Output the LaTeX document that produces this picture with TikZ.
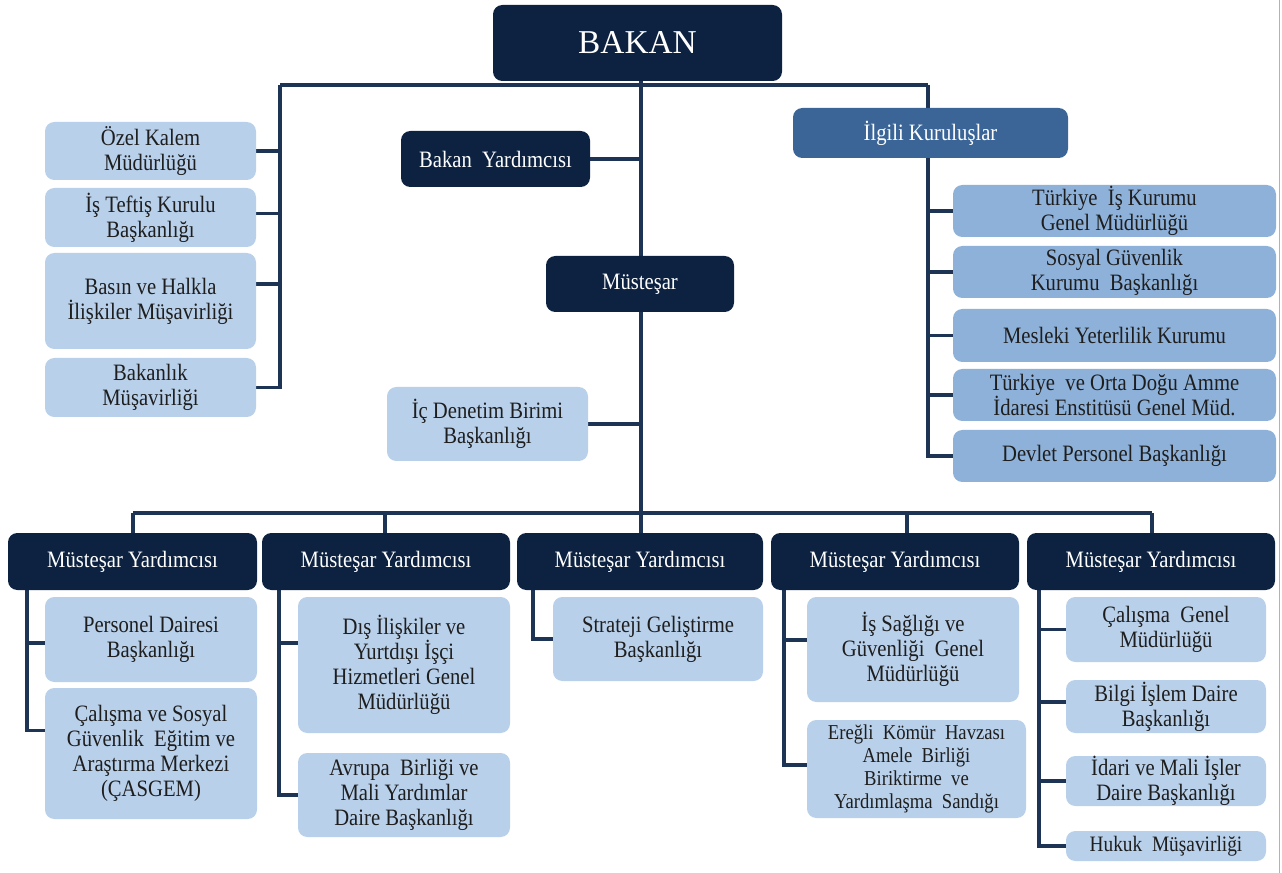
\documentclass[tikz,border=0pt]{standalone}
\usepackage{fontspec}
\setmainfont{Liberation Serif}[FakeStretch=0.88]
\newfontfamily\plainserif{Liberation Serif}
\usetikzlibrary{calc}
\definecolor{navy}{HTML}{0C2240}
\definecolor{lightb}{HTML}{B8D0EA}
\definecolor{midb}{HTML}{8EB1D9}
\definecolor{ilg}{HTML}{3A6596}
\definecolor{linec}{HTML}{1D3455}
\definecolor{txt}{HTML}{1E1E1E}
\pgfdeclarelayer{bg}
\pgfsetlayers{bg,main}
\newcommand{\bx}[7]{%
  \pgfmathsetmacro{\bw}{(#4-#2)*0.75}%
  \pgfmathsetmacro{\bh}{(#5-#3)*0.75}%
  \node[#6, minimum width=\bw pt, minimum height=\bh pt] (#1) at ({(#2+#4)/2},{(#3+#5)/2}) {#7};%
}
\begin{document}
\begin{tikzpicture}[x=0.75pt,y=-0.75pt,
  base/.style={inner sep=0pt, align=center, rounded corners=7pt, font=\fontsize{17.6}{18.6}\selectfont},
  darkbox/.style={base, fill=navy, text=white},
  lightbox/.style={base, fill=lightb, text=txt},
  midbox/.style={base, fill=midb, text=txt},
  ilgbox/.style={base, fill=ilg, text=white},
  conn/.style={draw=linec, line width=2.6pt}]
\useasboundingbox (0,0) rectangle (1282,873);

% top
\bx{bakan}{493}{5}{782}{81}{darkbox, font=\plainserif\fontsize{25}{30}\selectfont}{BAKAN}
\bx{ozel}{45}{122}{256}{180}{lightbox}{Özel Kalem\\Müdürlüğü}
\bx{teftis}{45}{188}{256}{247}{lightbox}{İş Teftiş Kurulu\\Başkanlığı}
\bx{basin}{45}{253}{256}{349}{lightbox}{Basın ve Halkla\\İlişkiler Müşavirliği}
\bx{bakmus}{45}{358}{256}{417}{lightbox}{Bakanlık\\Müşavirliği}
\bx{byard}{401}{131}{590}{187}{darkbox}{Bakan\ \ Yardımcısı}
\bx{muste}{546}{256}{734}{312}{darkbox}{Müsteşar}
\bx{icden}{387}{387}{588}{461}{lightbox}{İç Denetim Birimi\\Başkanlığı}
\bx{ilgili}{793}{108}{1068}{158}{ilgbox}{İlgili Kuruluşlar}
\bx{iskur}{953}{185}{1276}{237}{midbox}{Türkiye\ \ İş Kurumu\\Genel Müdürlüğü}
\bx{sgk}{953}{246}{1276}{298}{midbox}{Sosyal Güvenlik\\Kurumu\ \ Başkanlığı}
\bx{myk}{953}{309}{1276}{362}{midbox}{Mesleki Yeterlilik Kurumu}
\bx{todaie}{953}{369}{1276}{421}{midbox}{Türkiye\ \ ve Orta Doğu Amme\\İdaresi Enstitüsü Genel Müd.}
\bx{dpb}{953}{430}{1276}{482}{midbox}{Devlet Personel Başkanlığı}

% bottom row
\bx{my1}{8}{533}{257}{590}{darkbox}{Müsteşar Yardımcısı}
\bx{my2}{262}{533}{510}{590}{darkbox}{Müsteşar Yardımcısı}
\bx{my3}{517}{533}{763}{590}{darkbox}{Müsteşar Yardımcısı}
\bx{my4}{771}{533}{1019}{590}{darkbox}{Müsteşar Yardımcısı}
\bx{my5}{1027}{533}{1275}{590}{darkbox}{Müsteşar Yardımcısı}

\bx{pers}{45}{597}{257}{682}{lightbox}{Personel Dairesi\\Başkanlığı}
\bx{casgem}{45}{688}{257}{819}{lightbox}{Çalışma ve Sosyal\\Güvenlik\ \ Eğitim ve\\Araştırma Merkezi\\(ÇASGEM)}
\bx{dis}{298}{597}{510}{733}{lightbox}{Dış İlişkiler ve\\Yurtdışı İşçi\\Hizmetleri Genel\\Müdürlüğü}
\bx{ab}{298}{753}{510}{837}{lightbox}{Avrupa\ \ Birliği ve\\Mali Yardımlar\\Daire Başkanlığı}
\bx{sgb}{553}{597}{763}{681}{lightbox}{Strateji Geliştirme\\Başkanlığı}
\bx{isg}{807}{597}{1019}{702}{lightbox}{İş Sağlığı ve\\Güvenliği\ \ Genel\\Müdürlüğü}
\bx{eregli}{807}{720}{1026}{818}{lightbox, font=\fontsize{15.9}{17.3}\selectfont}{Ereğli\ \ Kömür\ \ Havzası\\Amele\ \ Birliği\\Biriktirme\ \ ve\\Yardımlaşma\ \ Sandığı}
\bx{cgm}{1066}{597}{1266}{662}{lightbox}{Çalışma\ \ Genel\\Müdürlüğü}
\bx{bilgi}{1066}{680}{1266}{733}{lightbox}{Bilgi İşlem Daire\\Başkanlığı}
\bx{idari}{1066}{756}{1266}{806}{lightbox}{İdari ve Mali İşler\\Daire Başkanlığı}
\bx{hukuk}{1066}{831}{1266}{861}{lightbox, font=\fontsize{16.5}{17}\selectfont}{Hukuk\ \ Müşavirliği}

% bus coordinates
\coordinate (L) at (280,85);
\coordinate (R) at (928,85);
\coordinate (B) at (641,513);
\coordinate (B1) at (133,513);
\coordinate (B2) at (385,513);
\coordinate (B4) at (907,513);
\coordinate (B5) at (1152,513);
\coordinate (v1) at (27,0);
\coordinate (v2) at (279,0);
\coordinate (v3) at (533,0);
\coordinate (v4) at (784,0);
\coordinate (v5) at (1039,0);

\begin{pgfonlayer}{bg}
\fill[white] (0,0) rectangle (1282,873);
\draw[gray!60, line width=0.9pt] (1279.5,0) -- (1279.5,873);
% top bus
\draw[conn] (L) -- (R);
\draw[conn] (bakan.south -| B) -- (B);
\draw[conn] (L) |- (ozel.east);
\draw[conn] (L) |- ([yshift=3pt]teftis.east);
\draw[conn] (L) |- ([yshift=12.75pt]basin.east);
\draw[conn] (L) |- (bakmus.east);
\draw[conn] (byard.east) -- (byard.east -| B);
\draw[conn] (icden.east) -- (icden.east -| B);
\draw[conn] (R) -- (ilgili.north -| R);
\draw[conn] (ilgili.south -| R) |- (iskur.west);
\draw[conn] (ilgili.south -| R) |- (sgk.west);
\draw[conn] (ilgili.south -| R) |- (myk.west);
\draw[conn] (ilgili.south -| R) |- (todaie.west);
\draw[conn] (ilgili.south -| R) |- (dpb.west);
% bottom bus
\draw[conn] (B1) -- (B5);
\draw[conn] (B1) -- (my1.north -| B1);
\draw[conn] (B2) -- (my2.north -| B2);
\draw[conn] (B) -- (my3.north -| B);
\draw[conn] (B4) -- (my4.north -| B4);
\draw[conn] (B5) -- (my5.north -| B5);
% columns
\draw[conn] (my1.south -| v1) |- ([yshift=-2.6pt]pers.west);
\draw[conn] (my1.south -| v1) |- ([yshift=17.25pt]casgem.west);
\draw[conn] (my2.south -| v2) |- ([yshift=16.5pt]dis.west);
\draw[conn] (my2.south -| v2) |- (ab.west);
\draw[conn] (my3.south -| v3) |- (sgb.west);
\draw[conn] (my4.south -| v4) |- ([yshift=7pt]isg.west);
\draw[conn] (my4.south -| v4) |- ([yshift=3pt]eregli.west);
\draw[conn] (my5.south -| v5) |- (cgm.west);
\draw[conn] (my5.south -| v5) |- ([yshift=3.4pt]bilgi.west);
\draw[conn] (my5.south -| v5) |- (idari.west);
\draw[conn] (my5.south -| v5) |- (hukuk.west);
\end{pgfonlayer}
\end{tikzpicture}
\end{document}
